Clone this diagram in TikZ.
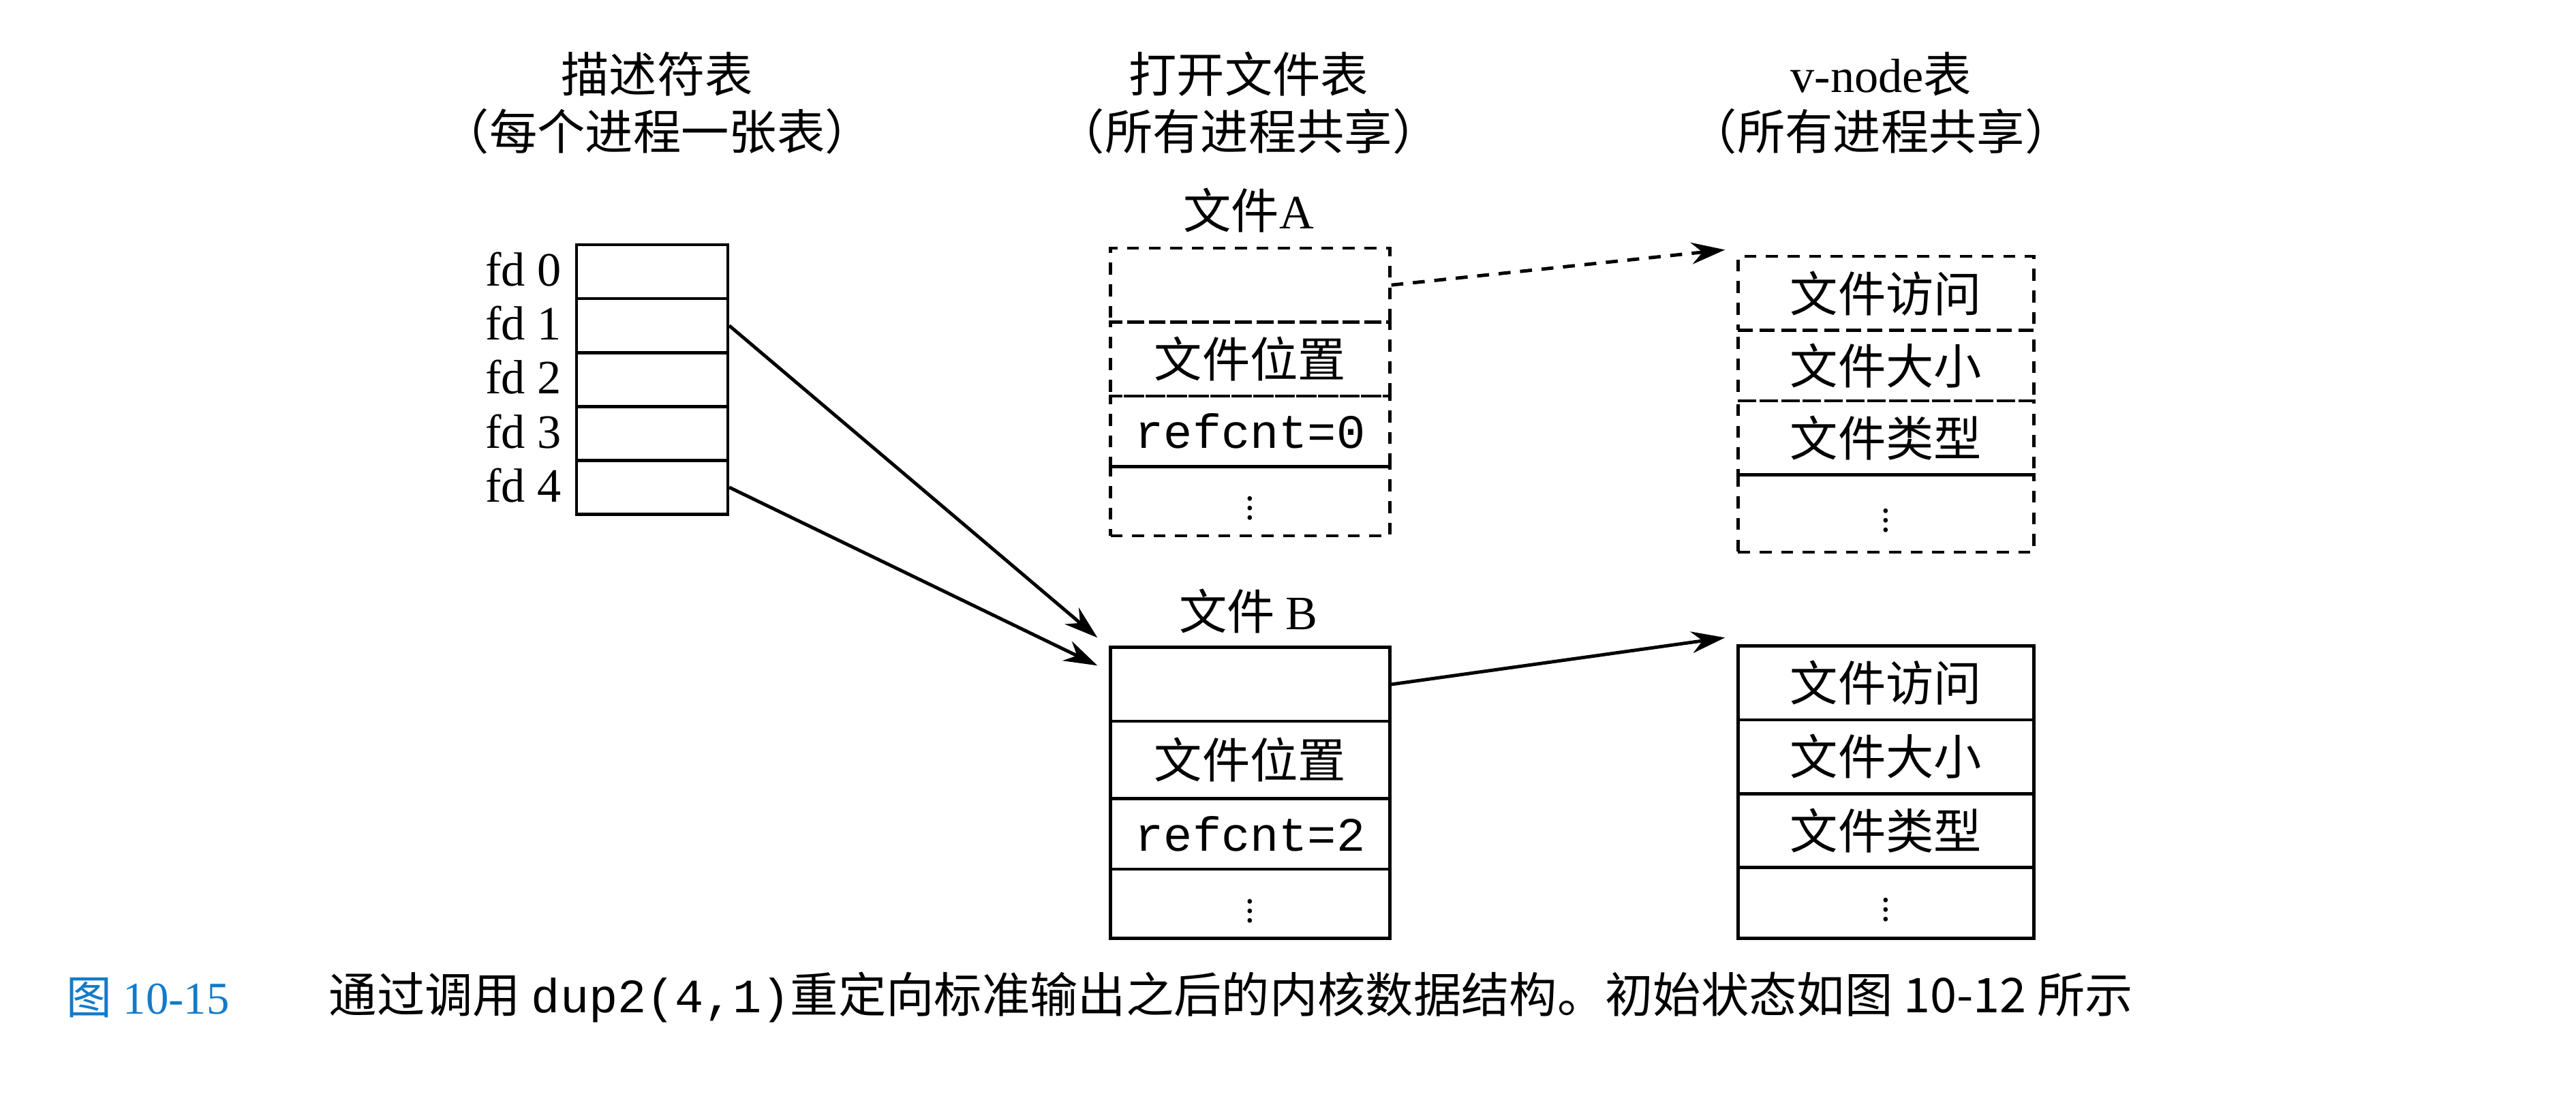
\documentclass[tikz,border=0pt]{standalone}
\usepackage{fontspec}
\setmainfont{Liberation Serif}
\setmonofont{Liberation Mono}
\newfontfamily\cjk{Noto Sans CJK SC}
\usetikzlibrary{arrows.meta}
\newcommand{\vd}{\fontsize{14}{14}\selectfont$\vdots$}
\begin{document}
\begin{tikzpicture}[x=0.0241cm,y=-0.0241cm,
  txt/.style={font=\fontsize{20}{24}\selectfont\cjk,inner sep=0},
  cell/.style={draw,line width=1.3pt,minimum width=#1*0.0241cm,inner sep=0,font=\fontsize{20}{24}\selectfont\cjk,anchor=north west},
  dcell/.style={cell=#1,dash pattern=on 5pt off 4pt},
  arr/.style={-{Stealth[length=14pt,width=9pt]},line width=1.4pt}]
\useasboundingbox (0,0) rectangle (1568,672);
\node[txt] (t1) at (400,45) {描述符表};
\node[txt] (t1b) at (400,80) {（每个进程一张表）};
\node[txt] (t2) at (760,45) {打开文件表};
\node[txt] (t2b) at (760,80) {（所有进程共享）};
\node[txt] (t3) at (1145,45) {\rmfamily v-node\cjk 表};
\node[txt] (t3b) at (1145,80) {（所有进程共享）};
% fd table
\foreach \i in {0,...,4}{
  \node[cell=92,minimum height=32.8*0.0241cm] (fd\i) at (350,148+32.8*\i) {};
  \node[txt,anchor=east,font=\fontsize{20}{24}\selectfont\rmfamily] (fl\i) at (342,164+32.8*\i) {fd \i};
}
% file A
\node[txt] (lA) at (760,128) {文件\rmfamily A};
\node[dcell=170,minimum height=45*0.0241cm] (a0) at (675,150) {};
\node[dcell=170,minimum height=45*0.0241cm] (a1) at (675,195) {文件位置};
\node[dcell=170,minimum height=43*0.0241cm] (a2) at (675,240) {\ttfamily refcnt=0};
\node[dcell=170,minimum height=42*0.0241cm] (a3) at (675,283) {\vd};
% vnode A
\node[dcell=180,minimum height=45*0.0241cm] (va0) at (1057,155) {文件访问};
\node[dcell=180,minimum height=43*0.0241cm] (va1) at (1057,200) {文件大小};
\node[dcell=180,minimum height=45*0.0241cm] (va2) at (1057,243) {文件类型};
\node[dcell=180,minimum height=47*0.0241cm] (va3) at (1057,288) {\vd};
% file B
\node[txt] (lB) at (760,372) {文件 \rmfamily B};
\node[cell=170,minimum height=45*0.0241cm] (b0) at (675,393) {};
\node[cell=170,minimum height=47*0.0241cm] (b1) at (675,438) {文件位置};
\node[cell=170,minimum height=43*0.0241cm] (b2) at (675,485) {\ttfamily refcnt=2};
\node[cell=170,minimum height=42*0.0241cm] (b3) at (675,528) {\vd};
% vnode B
\node[cell=180,minimum height=45*0.0241cm] (vb0) at (1057,392) {文件访问};
\node[cell=180,minimum height=45*0.0241cm] (vb1) at (1057,437) {文件大小};
\node[cell=180,minimum height=45*0.0241cm] (vb2) at (1057,482) {文件类型};
\node[cell=180,minimum height=43*0.0241cm] (vb3) at (1057,527) {\vd};
% arrows
\coordinate (pA) at (1050,152);
\coordinate (pB) at (1050,388);
\coordinate (q1) at (668,388);
\coordinate (q4) at (668,405);
\draw[arr,dash pattern=on 5pt off 4pt] (a0.east) -- (pA);
\draw[arr] (b0.east) -- (pB);
\draw[arr] (fd1.east) -- (q1);
\draw[arr] (fd4.east) -- (q4);
% caption
\node[txt,anchor=west,text=cyan!60!blue,font=\fontsize{19}{22}\selectfont\rmfamily] (cap1) at (40,607) {{\cjk 图} 10-15};
\node[txt,anchor=west,font=\fontsize{20}{24}\selectfont\cjk] (cap2) at (200,607) {通过调用 {\ttfamily dup2(4,1)}重定向标准输出之后的内核数据结构。初始状态如图 10-12 所示};
\end{tikzpicture}
\end{document}
